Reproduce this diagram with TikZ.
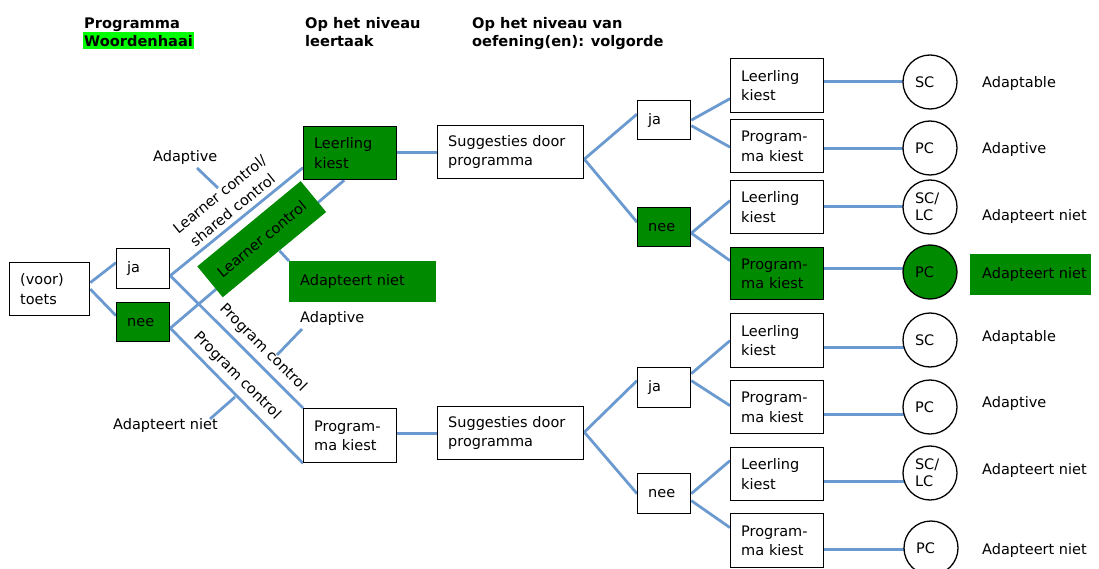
\documentclass[tikz,border=0pt]{standalone}
\usepackage{fontspec}
\setmainfont{DejaVu Sans}
\usetikzlibrary{calc}
\pgfdeclarelayer{bg}
\pgfsetlayers{bg,main}
\definecolor{lblue}{RGB}{106,154,208}
\definecolor{dgreen}{RGB}{0,138,0}
\definecolor{hlgreen}{RGB}{0,255,0}
\newcommand\fsreg{\fontsize{14.5}{19.5}\selectfont}
\newcommand\fsrot{\fontsize{14.5}{20.5}\selectfont}
\newcommand\fshdr{\fontsize{14.6}{18.4}\selectfont\bfseries}
\newcommand\fscirc{\fontsize{14.5}{17}\selectfont}
\begin{document}
\begin{tikzpicture}[x=1pt,y=-1pt,
  ln/.style={draw=lblue, line width=2.8pt},
  bx/.style={draw=black, line width=1.3pt, fill=white, inner xsep=10.5pt, inner ysep=0pt,
             align=left, anchor=north west, font=\fsreg, minimum height=53pt},
  gbx/.style={bx, fill=dgreen},
  wsmall/.style={text width=32pt},
  wmid/.style={text width=72pt},
  circ/.style={circle, draw=black, line width=1.3pt, fill=white, minimum size=54pt,
               inner sep=0pt, text width=30pt, align=left, font=\fscirc},
  lab/.style={anchor=west, inner sep=0pt, font=\fsreg},
  hdr/.style={anchor=base west, inner sep=0pt, font=\fshdr},
  gnote/.style={anchor=north west, fill=dgreen, minimum height=41pt, inner ysep=0pt, font=\fsreg},
  rotlab/.style={font=\fsrot, inner sep=0pt, align=center}
]
\useasboundingbox (0,0) rectangle (1099,569);

% headers
\node[hdr] (h1) at (84,28.3) {Programma};
\node[hdr, fill=hlgreen, inner xsep=1.5pt, text height=15pt, text depth=2.3pt] (h1b) at (82.5,46.7) {Woordenhaai};
\node[hdr] (h2) at (305,28.3) {Op het niveau};
\node[hdr] (h2b) at (305,46.7) {leertaak};
\node[hdr] (h3) at (472,28.3) {Op het niveau van};
\node[hdr] (h3b) at (472,46.7) {oefening(en): volgorde};

% left boxes
\node[bx, text width=59pt] (toets) at (9,262) {(voor)\\toets};
\node[bx, wsmall, minimum height=40pt] (ja1) at (116,248) {ja};
\node[gbx, wsmall, minimum height=39pt] (nee1) at (116,302) {nee};
\node[gbx, wmid] (lk) at (303,126) {Leerling\\kiest};
\node[bx, wmid, minimum height=54pt] (pk) at (303,408) {Program-\\ma kiest};
\node[bx, text width=125pt] (sg1) at (437,125) {Suggesties door\\programma};
\node[bx, text width=125pt] (sg2) at (437,406) {Suggesties door\\programma};

% right tree
\node[bx, wsmall, minimum height=39pt] (ja2) at (637,100) {ja};
\node[gbx, wsmall, minimum height=39pt] (nee2) at (637,207) {nee};
\node[bx, wsmall, minimum height=40pt] (ja3) at (637,367) {ja};
\node[bx, wsmall, minimum height=40pt] (nee3) at (637,473) {nee};

\node[bx, wmid, minimum height=54pt] (b1) at (730,58) {Leerling\\kiest};
\node[bx, wmid] (b2) at (730,119) {Program-\\ma kiest};
\node[bx, wmid] (b3) at (730,180) {Leerling\\kiest};
\node[gbx, wmid, minimum height=52pt] (b4) at (730,247) {Program-\\ma kiest};
\node[bx, wmid, minimum height=54pt] (b5) at (730,313) {Leerling\\kiest};
\node[bx, wmid] (b6) at (730,380) {Program-\\ma kiest};
\node[bx, wmid] (b7) at (730,447) {Leerling\\kiest};
\node[bx, wmid, minimum height=54pt] (b8) at (730,513) {Program-\\ma kiest};

% circles
\node[circ] (c1) at (930,82) {SC};
\node[circ] (c2) at (930,148) {PC};
\node[circ] (c3) at (930,207) {SC/\\LC};
\node[circ, fill=dgreen] (c4) at (930,272) {PC};
\node[circ] (c5) at (930,340) {SC};
\node[circ] (c6) at (930,407) {PC};
\node[circ] (c7) at (930,473) {SC/\\LC};
\node[circ] (c8) at (931,548) {PC};

% right labels
\node[lab] (r1) at (982,84) {Adaptable};
\node[lab] (r2) at (982,150) {Adaptive};
\node[lab] (r3) at (982,216.5) {Adapteert niet};
\node[gnote, minimum width=121pt, inner xsep=12pt] (r4) at (970,254) {\makebox[97pt][l]{Adapteert niet}};
\node[lab] (r5) at (982,337) {Adaptable};
\node[lab] (r6) at (982,403.5) {Adaptive};
\node[lab] (r7) at (982,470.5) {Adapteert niet};
\node[lab] (r8) at (982,550) {Adapteert niet};

% left labels
\node[lab] (ad1) at (153,158) {Adaptive};
\node[lab] (ad2) at (300,318) {Adaptive};
\node[lab] (an2) at (113,425) {Adapteert niet};
\node[gnote, minimum width=147pt, inner xsep=11pt] (an1) at (289,261) {\makebox[125pt][l]{Adapteert niet}};

\node[rotlab, rotate=39.1] (lcs) at (226,202) {Learner control/\\shared control};
\node[fill=dgreen, rotate=39.5, minimum width=134pt, minimum height=40pt, inner sep=0pt, font=\fsreg] (lc) at (261.7,239.2) {Learner control};
\node[rotlab, rotate=-45] (pc1) at (263,348) {Program control};
\node[rotlab, rotate=-45] (pc2) at (237,376) {Program control};

% ticks
\draw[ln] ($(ad1.west)+(44,10)$) -- ($(ad1.west)+(65,30)$);
\draw[ln] ($(lc.south)+(5,-4)$) -- (an1.north west);
\draw[ln] ($(ad2.west)+(2,11)$) -- ($(ad2.west)+(-23,37)$);
\draw[ln] ($(an2.west)+(97,-6)$) -- ($(an2.west)+(122,-28)$);

\begin{pgfonlayer}{bg}
\draw[ln] ($(toets.east)+(0,-6.5)$) -- ($(ja1.west)+(0,-6)$);
\draw[ln] (toets.east) -- ($(nee1.west)+(0,-6.5)$);
\draw[ln] ($(ja1.east)+(0,7)$) -- ($(lk.west)+(0,14.5)$);
\draw[ln] ($(ja1.east)+(0,7)$) -- (pk.north west);
\draw[ln] ($(nee1.east)+(0,6)$) -- ($(lk.south)+(-6,0)$);
\draw[ln] ($(nee1.east)+(0,6)$) -- (pk.south west);
\draw[ln] (sg1.west -| lk.east) -- (sg1.west);
\draw[ln] (sg2.west -| pk.east) -- (sg2.west);

\draw[ln] ($(sg1.east)+(0,7)$) -- ($(ja2.west)+(0,-6)$);
\draw[ln] ($(sg1.east)+(0,7)$) -- ($(nee2.west)+(0,-5)$);
\draw[ln] (ja2.east) -- ($(b1.west)+(0,13)$);
\draw[ln] ($(ja2.east)+(0,5.5)$) -- ($(b2.west)+(0,1)$);
\draw[ln] ($(nee2.east)+(0,6)$) -- ($(b3.west)+(0,-6.5)$);
\draw[ln] ($(nee2.east)+(0,6)$) -- ($(b4.west)+(0,-13)$);

\draw[ln] ($(sg2.east)+(0,-1)$) -- ($(ja3.west)+(0,-7)$);
\draw[ln] ($(sg2.east)+(0,-1)$) -- (nee3.west);
\draw[ln] ($(ja3.east)+(0,-14)$) -- (b5.west);
\draw[ln] ($(ja3.east)+(0,-7)$) -- ($(b6.west)+(0,-1.5)$);
\draw[ln] (nee3.east) -- ($(b7.west)+(0,-13.5)$);
\draw[ln] ($(nee3.east)+(0,7)$) -- ($(b8.west)+(0,-13)$);

\coordinate (e1) at ($(b1.east)+(0,-4)$);
\coordinate (e2) at ($(b2.east)+(0,2.5)$);
\coordinate (e3) at ($(b3.east)+(0,-0.5)$);
\coordinate (e4) at ($(b4.east)+(0,-5)$);
\coordinate (e5) at ($(b5.east)+(0,7)$);
\coordinate (e6) at ($(b6.east)+(0,7.5)$);
\coordinate (e7) at ($(b7.east)+(0,7.5)$);
\coordinate (e8) at ($(b8.east)+(0,9)$);
\draw[ln] (e1) -- (e1 -| c1.center);
\draw[ln] (e2) -- (e2 -| c2.center);
\draw[ln] (e3) -- (e3 -| c3.center);
\draw[ln] (e4) -- (e4 -| c4.center);
\draw[ln] (e5) -- (e5 -| c5.center);
\draw[ln] (e6) -- (e6 -| c6.center);
\draw[ln] (e7) -- (e7 -| c7.center);
\draw[ln] (e8) -- (e8 -| c8.center);
\end{pgfonlayer}
\end{tikzpicture}
\end{document}
